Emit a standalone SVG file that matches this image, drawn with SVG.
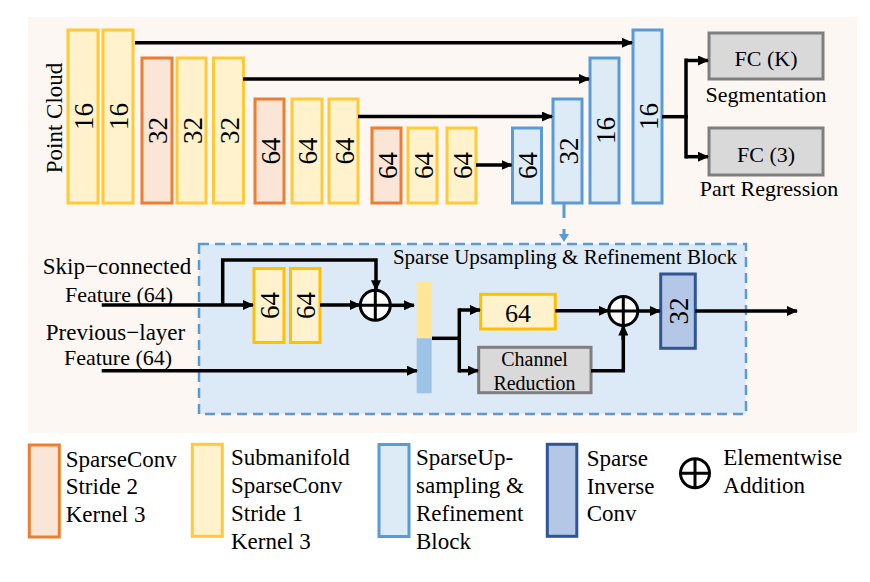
<svg xmlns="http://www.w3.org/2000/svg" width="870" height="582" viewBox="0 0 870 582" font-family="Liberation Serif">
<defs>
<marker id="ah" markerUnits="userSpaceOnUse" markerWidth="11" markerHeight="10" refX="10" refY="5" orient="auto">
<path d="M0,0 L11,5 L0,10 z" fill="#000"/>
</marker>
</defs>
<style>
text{fill:#000;font-family:'Liberation Serif','Times New Roman',Times,serif}
.num{font-size:27px;text-anchor:middle}
.lbl{font-size:22px}
.leg{font-size:23px}
.or{fill:#fbe5d6;stroke:#ed7d31;stroke-width:3}
.ye{fill:#fff2cc;stroke:#ffc937;stroke-width:3}
.ye2{fill:#fff2cc;stroke:#ffc000;stroke-width:3}
.bl{fill:#ddebf7;stroke:#5b9bd5;stroke-width:3}
.db{fill:#b4c7e7;stroke:#2f5597;stroke-width:3}
.gr{fill:#d9d9d9;stroke:#7f7f7f;stroke-width:3}
.ln{fill:none;stroke:#000;stroke-width:3.5}
.ar{fill:none;stroke:#000;stroke-width:3.5;marker-end:url(#ah)}
.plus{fill:#fff;stroke:#000;stroke-width:3}
</style>
<rect x="28" y="17" width="829" height="416" fill="#fcf7f3"/>
<text class="lbl" style="font-size:23px" text-anchor="middle" transform="translate(61.5,118) rotate(-90)">Point Cloud</text>

<g id="enc1"><rect class="ye" x="68" y="30" width="30" height="173"/><text class="num" transform="translate(93,116.5) rotate(-90)">16</text></g>
<g id="enc2"><rect class="ye" x="103" y="30" width="30" height="173"/><text class="num" transform="translate(128,116.5) rotate(-90)">16</text></g>
<g id="enc3"><rect class="or" x="142" y="58" width="30" height="145"/><text class="num" transform="translate(167,130.5) rotate(-90)">32</text></g>
<g id="enc4"><rect class="ye" x="177" y="58" width="29" height="145"/><text class="num" transform="translate(201.5,130.5) rotate(-90)">32</text></g>
<g id="enc5"><rect class="ye" x="213.5" y="58" width="30" height="145"/><text class="num" transform="translate(238.5,130.5) rotate(-90)">32</text></g>
<g id="enc6"><rect class="or" x="255" y="99" width="29" height="104"/><text class="num" transform="translate(279.5,151) rotate(-90)">64</text></g>
<g id="enc7"><rect class="ye" x="292" y="99" width="30" height="104"/><text class="num" transform="translate(317,151) rotate(-90)">64</text></g>
<g id="enc8"><rect class="ye" x="329" y="99" width="29" height="104"/><text class="num" transform="translate(353.5,151) rotate(-90)">64</text></g>
<g id="enc9"><rect class="or" x="372" y="128" width="29" height="75"/><text class="num" transform="translate(396.5,165.5) rotate(-90)">64</text></g>
<g id="enc10"><rect class="ye" x="408" y="128" width="29" height="75"/><text class="num" transform="translate(432.5,165.5) rotate(-90)">64</text></g>
<g id="enc11"><rect class="ye" x="447" y="128" width="29" height="75"/><text class="num" transform="translate(471.5,165.5) rotate(-90)">64</text></g>

<g id="dec1"><rect class="bl" x="512.5" y="128" width="29" height="75"/><text class="num" transform="translate(537,165.5) rotate(-90)">64</text></g>
<g id="dec2"><rect class="bl" x="553" y="99" width="29" height="104"/><text class="num" transform="translate(577.5,151) rotate(-90)">32</text></g>
<g id="dec3"><rect class="bl" x="590" y="58" width="29" height="145"/><text class="num" transform="translate(614.5,130.5) rotate(-90)">16</text></g>
<g id="dec4"><rect class="bl" x="633" y="30" width="29" height="173"/><text class="num" transform="translate(657.5,116.5) rotate(-90)">16</text></g>

<g id="fcK"><rect class="gr" x="709" y="33" width="114" height="46"/><text class="lbl" x="766" y="66" text-anchor="middle">FC (K)</text></g>
<text class="lbl" x="766" y="102" text-anchor="middle">Segmentation</text>
<g id="fc3"><rect class="gr" x="709" y="128" width="114" height="47"/><text class="lbl" x="766" y="161.5" text-anchor="middle">FC (3)</text></g>
<text class="lbl" x="769" y="196" text-anchor="middle">Part Regression</text>

<g id="block">
<rect x="199" y="244" width="547" height="170" fill="#dce9f6" stroke="#5b9bd5" stroke-width="2.5" stroke-dasharray="10 6"/>
<text x="565" y="263.5" text-anchor="middle" style="font-size:21px">Sparse Upsampling &amp; Refinement Block</text>
</g>
<text class="lbl" x="117" y="273.5" text-anchor="middle" style="font-size:23px">Skip−connected</text>
<text class="lbl" x="119" y="301.5" text-anchor="middle">Feature (64)</text>
<text class="lbl" x="115.5" y="339.5" text-anchor="middle" style="font-size:23px">Previous−layer</text>
<text class="lbl" x="118" y="365" text-anchor="middle">Feature (64)</text>

<g id="b64a"><rect class="ye2" x="254" y="268.5" width="30" height="74"/><text class="num" transform="translate(279,305.5) rotate(-90)">64</text></g>
<g id="b64b"><rect class="ye2" x="290.5" y="268.5" width="29.5" height="74"/><text class="num" transform="translate(315,305.5) rotate(-90)">64</text></g>
<g id="add1"><circle class="plus" cx="375.3" cy="305.3" r="15"/><path d="M360.3,305.3 H390.3 M375.3,290.3 V320.3" stroke="#000" stroke-width="3"/></g>
<g id="concat"><rect x="416.7" y="281.7" width="15" height="56.6" fill="#ffe699"/><rect x="416.7" y="338.3" width="15" height="55" fill="#9dc3e6"/></g>
<g id="b64c"><rect class="ye2" x="480.7" y="294.3" width="74.6" height="34.7"/><text x="518" y="321.5" text-anchor="middle" style="font-size:26px">64</text></g>
<g id="chred"><rect class="gr" x="478.7" y="347.3" width="112.3" height="45.4"/><text x="534.5" y="365.5" text-anchor="middle" style="font-size:20px">Channel</text><text x="534.5" y="389.5" text-anchor="middle" style="font-size:20px">Reduction</text></g>
<g id="add2"><circle class="plus" cx="623.3" cy="311" r="14.5"/><path d="M608.8,311 H637.8 M623.3,296.5 V325.5" stroke="#000" stroke-width="3"/></g>
<g id="inv32"><rect class="db" x="660.7" y="274" width="34.6" height="74.3"/><text class="num" transform="translate(687.5,311) rotate(-90)">32</text></g>

<g id="connectors">
<path class="ar" d="M135,42.7 H632"/>
<path class="ar" d="M243,79 H589"/>
<path class="ar" d="M358,116.5 H552"/>
<path class="ar" d="M476,165 H511.5"/>
<path class="ln" d="M662,116.7 H688" stroke-width="5"/>
<path class="ln" d="M686,58.5 V158.5" stroke-width="4"/>
<path class="ar" d="M686,60.5 H708"/>
<path class="ar" d="M686,156.7 H708"/>
<path d="M564,204 V218" stroke="#5b9bd5" stroke-width="3"/>
<path d="M564,229 V235" stroke="#5b9bd5" stroke-width="3"/>
<polygon points="559,234 569,234 564,242" fill="#5b9bd5"/>
<path class="ar" d="M101.7,305 H253"/>
<path class="ln" d="M222.7,305 V260 H376 V283"/>
<path class="ar" d="M376,280 V290.3"/>
<path class="ar" d="M320,305 H360"/>
<path class="ar" d="M390.3,305.3 H414"/>
<path class="ar" d="M101.7,370.7 H417"/>
<path class="ln" d="M432,338.3 H459.3" stroke-width="4"/>
<path class="ln" d="M459.3,308.3 V372.5"/>
<path class="ar" d="M459.3,310 H480"/>
<path class="ar" d="M459.3,370.7 H478"/>
<path class="ar" d="M555.3,310.8 H608.8"/>
<path class="ln" d="M591,370.7 H623.3 V335"/>
<path class="ar" d="M623.3,340 V325.5"/>
<path class="ar" d="M637.8,311 H660"/>
<path class="ar" d="M695.3,311 H797"/>
</g>

<g id="legend">
<rect class="or" x="29.3" y="445" width="30" height="92"/>
<text class="leg" x="65.7" y="466.7">SparseConv</text>
<text class="leg" x="65.7" y="494.2">Stride 2</text>
<text class="leg" x="65.7" y="521.7">Kernel 3</text>
<rect class="ye" x="192.3" y="444.3" width="30" height="92"/>
<text class="leg" x="231" y="465.2">Submanifold</text>
<text class="leg" x="231" y="493">SparseConv</text>
<text class="leg" x="231" y="520.7">Stride 1</text>
<text class="leg" x="231" y="548.5">Kernel 3</text>
<rect class="bl" x="379" y="444.5" width="30" height="92"/>
<text class="leg" x="416" y="465.2">SparseUp-</text>
<text class="leg" x="416" y="493">sampling &amp;</text>
<text class="leg" x="416" y="520.7">Refinement</text>
<text class="leg" x="416" y="548.5">Block</text>
<rect class="db" x="547.3" y="444.3" width="29.5" height="92"/>
<text class="leg" x="586.7" y="466">Sparse</text>
<text class="leg" x="586.7" y="493.5">Inverse</text>
<text class="leg" x="586.7" y="520.5">Conv</text>
<circle cx="695" cy="473.3" r="14.5" fill="none" stroke="#000" stroke-width="3"/>
<path d="M680.5,473.3 H709.5 M695,458.8 V487.8" stroke="#000" stroke-width="3"/>
<text class="leg" x="723.3" y="464.5">Elementwise</text>
<text class="leg" x="723.3" y="493">Addition</text>
</g>
</svg>
